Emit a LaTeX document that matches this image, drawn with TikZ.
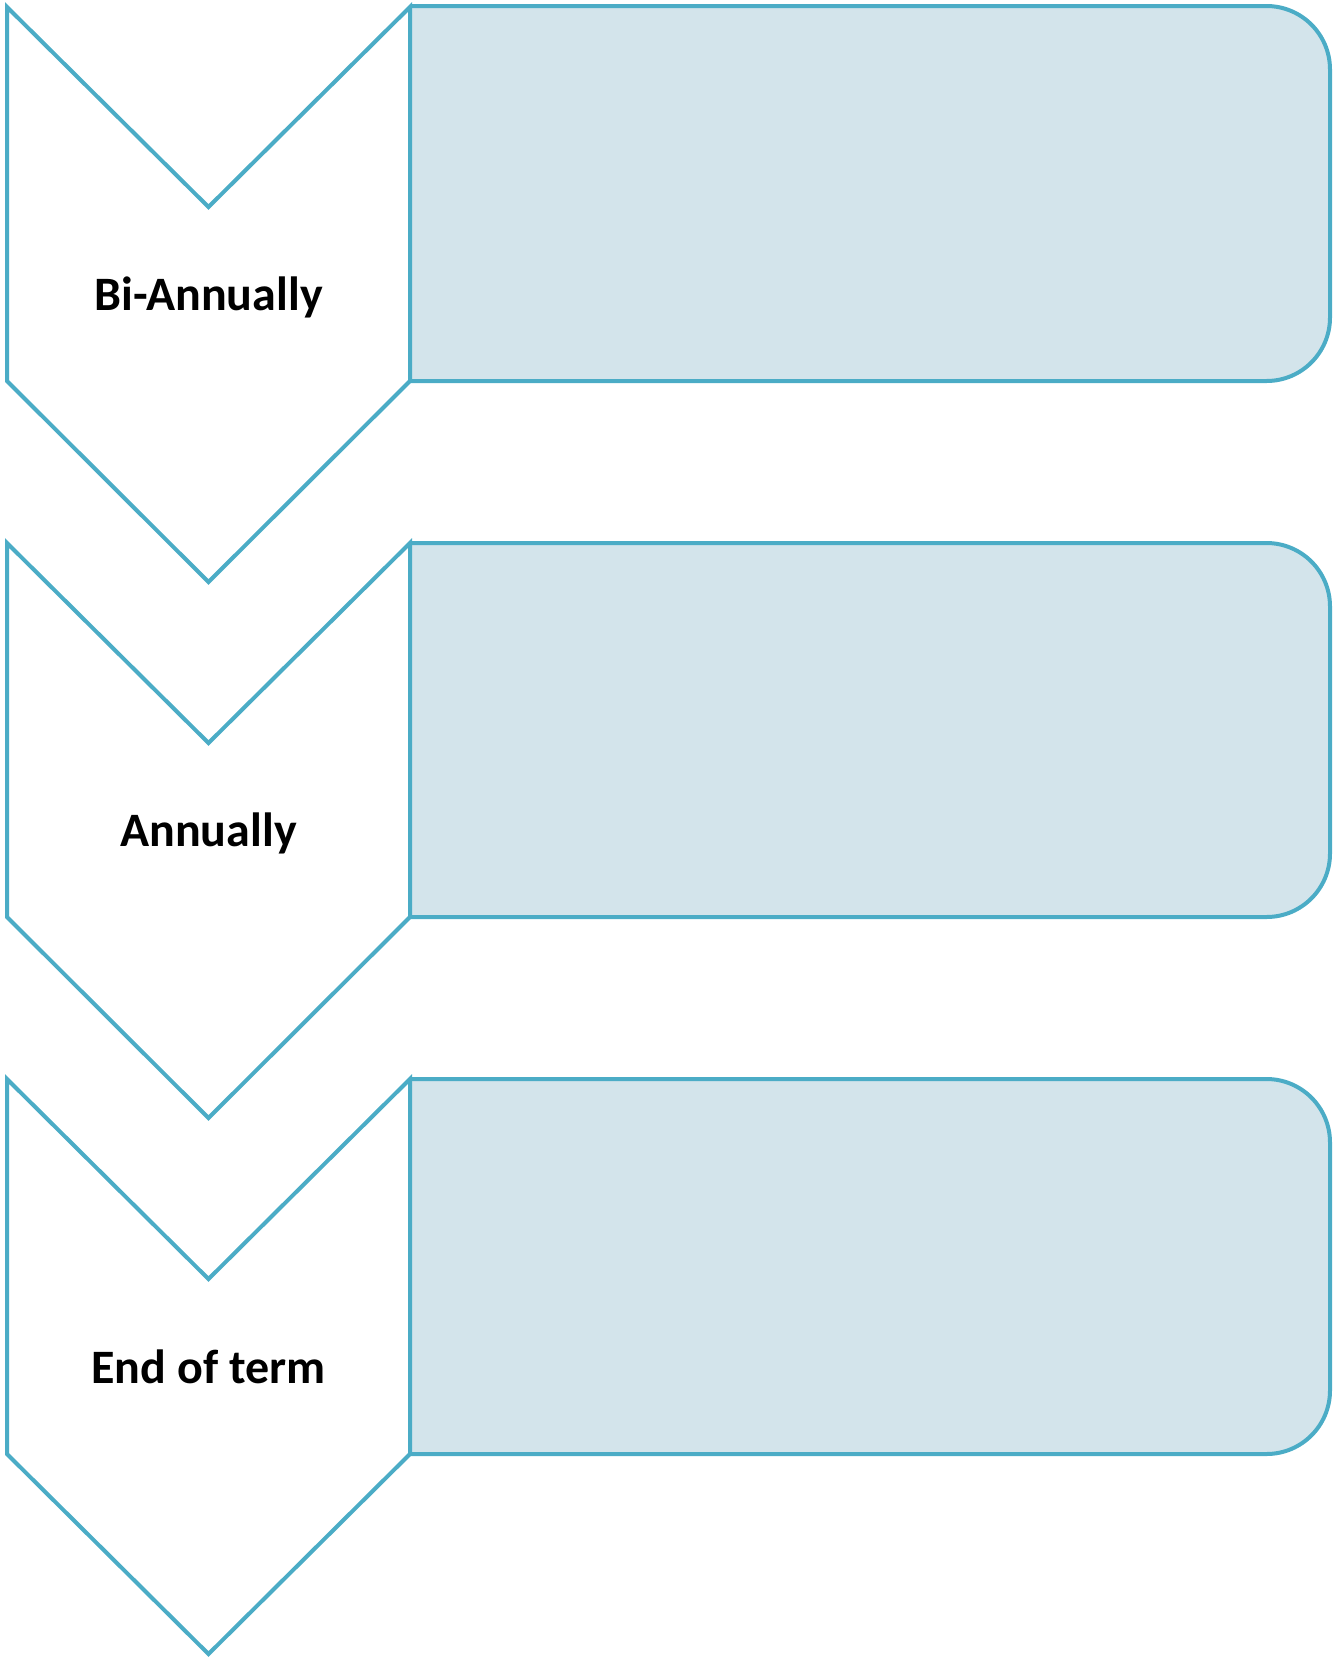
\documentclass[tikz,border=0pt]{standalone}
\usepackage{fontspec}
\setmainfont{Carlito}
\usepackage{xcolor}
\usetikzlibrary{positioning}
\definecolor{chevline}{RGB}{75,172,198}
\definecolor{panelfill}{RGB}{211,228,235}
\tikzset{
    chev/.style={draw=chevline, line width=2pt, fill=white, line join=miter},
    panel/.style={draw=chevline, line width=2pt, fill=panelfill, rounded corners=31.75pt},
    lbl/.style={anchor=base, inner sep=0pt, font=\fontsize{24}{29}\selectfont\bfseries}
}

\begin{document}
\begin{tikzpicture}[x=0.5pt, y=-0.5pt]
                        \useasboundingbox (0,0) rectangle (1333,1660);
                        % bi-annually
                        \draw[panel] (410,6) -- (1330,6) -- (1330,381) -- (410,381);
                        \draw[chev] (7,7) -- (208.5,207) -- (410,7) -- (410,381)
                        -- (208.5,582) -- (7,381) -- cycle;
                        \node[lbl] (bi) at (208.5,310) {Bi-Annually};
                        % annually
                        \draw[panel] (410,543) -- (1330,543) -- (1330,917) -- (410,917);
                        \draw[chev] (7,543) -- (208.5,743) -- (410,543) -- (410,917)
                        -- (208.5,1118) -- (7,917) -- cycle;
                        \node[lbl] (an) at (208.5,846) {Annually};
                        % end of term
                        \draw[panel] (410,1079) -- (1330,1079) -- (1330,1454) -- (410,1454);
                        \draw[chev] (7,1079) -- (208.5,1279) -- (410,1079) -- (410,1454)
                        -- (208.5,1654) -- (7,1454) -- cycle;
                        \node[lbl] (eot) at (208.5,1383) {End of term};
                    \end{tikzpicture}
\end{document}
